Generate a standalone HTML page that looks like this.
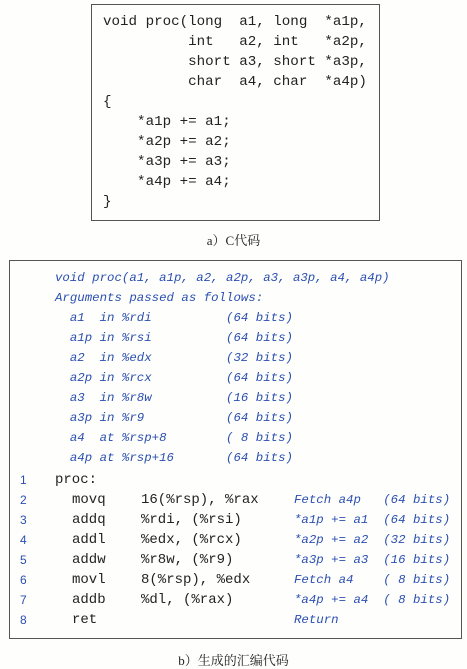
<!DOCTYPE html>
<html><head><meta charset="utf-8"><style>
body{margin:0;width:467px;height:669px;background:#fefefc;position:relative;overflow:hidden;font-family:"Liberation Mono",monospace;}
.box{position:absolute;border:1.5px solid #555;box-sizing:border-box;}
.t{position:absolute;white-space:pre;line-height:20px;}
.c{font-size:14.2px;color:#222;}
.b{font-size:12.4px;color:#2a4fb0;font-style:italic;}
.k{font-size:14px;color:#222;}
.n{font-size:12px;color:#2a4fb0;font-family:"Liberation Sans",sans-serif;}
.cap{position:absolute;font-family:"Liberation Serif","Noto Serif CJK SC",serif;font-size:13px;color:#222;width:467px;text-align:center;}
</style></head><body>
<div class="box" style="left:91px;top:4px;width:289px;height:217px"></div>
<div class="t c" style="left:103px;top:12px">void proc(long  a1, long  *a1p,
          int   a2, int   *a2p,
          short a3, short *a3p,
          char  a4, char  *a4p)
{
    *a1p += a1;
    *a2p += a2;
    *a3p += a3;
    *a4p += a4;
}</div>
<div class="cap" style="top:230px">a）C代码</div>
<div class="box" style="left:9px;top:260px;width:453px;height:379px"></div>
<div class="t b" style="left:55px;top:268px">void proc(a1, a1p, a2, a2p, a3, a3p, a4, a4p)
Arguments passed as follows:
  a1  in %rdi          (64 bits)
  a1p in %rsi          (64 bits)
  a2  in %edx          (32 bits)
  a2p in %rcx          (64 bits)
  a3  in %r8w          (16 bits)
  a3p in %r9           (64 bits)
  a4  at %rsp+8        ( 8 bits)
  a4p at %rsp+16       (64 bits)</div>
<div class="t n" style="left:20px;top:470px">1
2
3
4
5
6
7
8</div>
<div class="t k" style="left:55px;top:470px">proc:</div>
<div class="t k" style="left:72px;top:490px">movq
addq
addl
addw
movl
addb
ret</div>
<div class="t k" style="left:141px;top:490px">16(%rsp), %rax
%rdi, (%rsi)
%edx, (%rcx)
%r8w, (%r9)
8(%rsp), %edx
%dl, (%rax)</div>
<div class="t b" style="left:294px;top:490px">Fetch a4p   (64 bits)
*a1p += a1  (64 bits)
*a2p += a2  (32 bits)
*a3p += a3  (16 bits)
Fetch a4    ( 8 bits)
*a4p += a4  ( 8 bits)
Return</div>
<div class="cap" style="top:650px">b）生成的汇编代码</div>
</body></html>
